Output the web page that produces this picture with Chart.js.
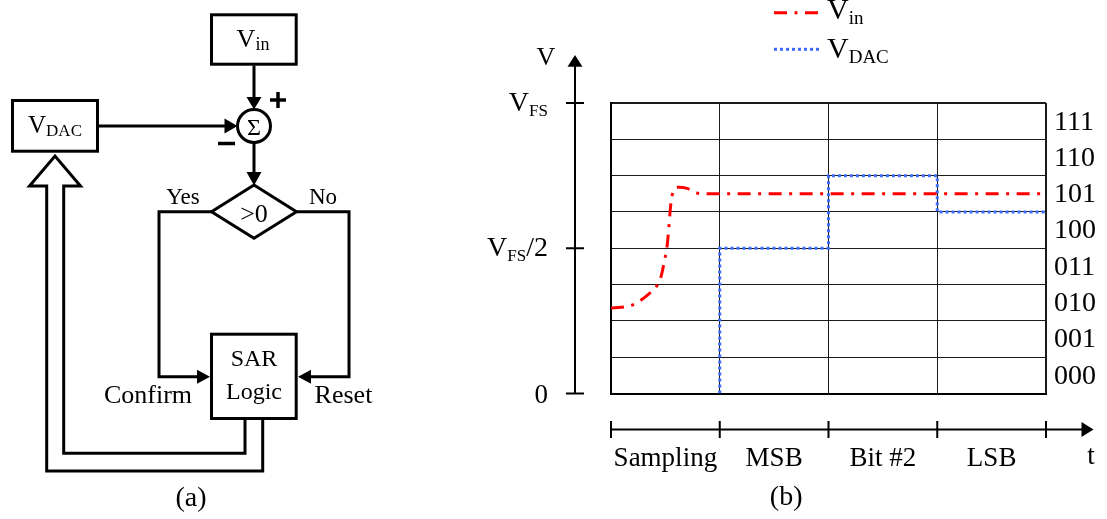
<!DOCTYPE html>
<html>
<head>
<meta charset="utf-8">
<script src="https://cdn.jsdelivr.net/npm/chart.js@4.4.1/dist/chart.umd.min.js"></script>
<style>
html,body{margin:0;padding:0;background:#fff;}
#wrap{position:relative;width:1107px;height:519px;overflow:hidden;background:#fff;}
#c{position:absolute;left:0;top:0;}
#diag{position:absolute;left:0;top:0;}
#diag text{font-family:"Liberation Serif","Times New Roman",serif;fill:#000;}
</style>
</head>
<body>
<div id="wrap">
<canvas id="c" width="1107" height="519"></canvas>
<svg id="diag" width="480" height="519" viewBox="0 0 480 519">
  <g fill="none" stroke="#000" stroke-width="3" stroke-linejoin="miter">
    <!-- Vin box -->
    <rect x="211.5" y="14.8" width="84.7" height="49.4"/>
    <!-- VDAC box -->
    <rect x="12.5" y="100.5" width="85" height="50.7"/>
    <!-- sum circle -->
    <circle cx="254" cy="126" r="16.5"/>
    <!-- comparator diamond -->
    <polygon points="254,185 296.5,211.7 254,238.3 211.5,211.7"/>
    <!-- SAR box -->
    <rect x="211.5" y="334.2" width="84.7" height="84.3"/>
    <!-- connections -->
    <line x1="254" y1="65.5" x2="254" y2="98"/>
    <line x1="98" y1="126" x2="226" y2="126"/>
    <line x1="254" y1="142.5" x2="254" y2="173"/>
    <polyline points="211.5,211.7 159,211.7 159,376.7 199,376.7"/>
    <polyline points="296.5,211.7 349,211.7 349,376.7 309,376.7"/>
    <!-- hollow feedback arrow -->
    <path d="M245,420 V453.3 H63.7 V186 H80.5 L55,156 L29.5,186 H46.7 V471 H262.7 V420"/>
    <!-- + and - signs -->
    <line x1="270" y1="100" x2="286" y2="100" stroke-width="3.5"/>
    <line x1="278" y1="92" x2="278" y2="108" stroke-width="3.5"/>
    <line x1="218" y1="143.5" x2="235" y2="143.5" stroke-width="3.5"/>
  </g>
  <g fill="#000" stroke="none">
    <polygon points="246.5,97 261.5,97 254,109.5"/>
    <polygon points="224.5,118.5 224.5,133.5 237.5,126"/>
    <polygon points="246.5,172 261.5,172 254,185.5"/>
    <polygon points="197,369.7 197,383.7 210,376.7"/>
    <polygon points="311,369.7 311,383.7 298,376.7"/>
  </g>
  <text x="253" y="46.5" text-anchor="middle" font-size="26">V<tspan font-size="18" dy="3">in</tspan></text>
  <text x="55" y="133.3" text-anchor="middle" font-size="25">V<tspan font-size="17" dy="3">DAC</tspan></text>
  <text x="254" y="134.5" text-anchor="middle" font-size="24">Σ</text>
  <text x="254" y="221.5" text-anchor="middle" font-size="26">&gt;0</text>
  <text x="183" y="204" text-anchor="middle" font-size="23">Yes</text>
  <text x="323" y="204" text-anchor="middle" font-size="23">No</text>
  <text x="254" y="366" text-anchor="middle" font-size="24">SAR</text>
  <text x="254" y="399" text-anchor="middle" font-size="24">Logic</text>
  <text x="148" y="403.3" text-anchor="middle" font-size="26">Confirm</text>
  <text x="343.5" y="403.3" text-anchor="middle" font-size="26">Reset</text>
  <text x="191" y="506" text-anchor="middle" font-size="28">(a)</text>
</svg>
</div>
<script>
// ---------------- data ----------------
const phaseLabels = ['Sampling', 'MSB', 'Bit #2', 'LSB'];
const codeLabels = ['000', '001', '010', '011', '100', '101', '110', '111'];
const vTickValues = [0, 4, 8];
const vTickMain = ['0', 'V', 'V'];
const vTickSub = ['', 'FS', 'FS'];
const vTickSuffix = ['', '/2', ''];
const seriesNames = ['V', 'V'];
const seriesSubs = ['in', 'DAC'];
// input voltage (time in phase units, voltage in LSB units)
const tIn = [0, 0.2, 0.36, 0.42, 0.46, 0.49, 0.515, 0.53, 0.545, 0.56, 0.62, 0.7, 0.79, 0.9, 4];
const vIn = [2.35, 2.44, 2.77, 2.96, 3.22, 3.63, 4.04, 4.5, 5.06, 5.44, 5.68, 5.65, 5.52, 5.5, 5.5];
// DAC output steps
const tDac = [1, 1, 2, 2, 3, 3, 4];
const vDac = [0, 4, 4, 6, 6, 5, 5];

const FONT = '"Liberation Serif", "Times New Roman", serif';
const f = s => s + 'px ' + FONT;

function drawParts(ctx, x, y, parts, align) {
  let total = 0;
  parts.forEach(p => { ctx.font = f(p.size); p.w = p.t ? ctx.measureText(p.t).width : 0; total += p.w; });
  let cx = align === 'right' ? x - total : (align === 'center' ? x - total / 2 : x);
  ctx.textAlign = 'left';
  ctx.textBaseline = 'alphabetic';
  parts.forEach(p => { if (p.t) { ctx.font = f(p.size); ctx.fillText(p.t, cx, y + (p.dy || 0)); } cx += p.w; });
}

const decor = {
  id: 'decor',
  afterDraw(chart) {
    const { ctx, chartArea: a, scales: { x, y } } = chart;
    ctx.save();
    ctx.fillStyle = '#000';
    ctx.strokeStyle = '#000';
    ctx.lineWidth = 2;
    ctx.setLineDash([]);

    // ----- vertical V axis -----
    const ax = a.left - 36;
    ctx.beginPath();
    ctx.moveTo(ax, y.getPixelForValue(0));
    ctx.lineTo(ax, a.top - 37);
    ctx.stroke();
    ctx.beginPath();
    ctx.moveTo(ax - 7.5, a.top - 36.3);
    ctx.lineTo(ax + 7.5, a.top - 36.3);
    ctx.lineTo(ax, a.top - 48);
    ctx.closePath();
    ctx.fill();
    ctx.font = f(26);
    ctx.textAlign = 'center';
    ctx.textBaseline = 'alphabetic';
    ctx.fillText('V', ax - 29, a.top - 38);
    vTickValues.forEach((v, i) => {
      const py = y.getPixelForValue(v);
      ctx.beginPath();
      ctx.moveTo(ax - 9, py);
      ctx.lineTo(ax + 9, py);
      ctx.stroke();
      if (vTickSub[i]) {
        drawParts(ctx, ax - 27, py + 8, [
          { t: vTickMain[i], size: 28 },
          { t: vTickSub[i], size: 17, dy: 5 },
          { t: vTickSuffix[i], size: 28 }
        ], 'right');
      } else {
        drawParts(ctx, ax - 27, py + 9, [{ t: vTickMain[i], size: 27 }], 'right');
      }
    });

    // ----- code labels at right -----
    ctx.font = f(28);
    ctx.textAlign = 'left';
    ctx.textBaseline = 'middle';
    codeLabels.forEach((lab, i) => {
      ctx.fillText(lab, a.right + 8, y.getPixelForValue(i + 0.5) + 1);
    });

    // ----- time axis -----
    const ty = a.bottom + 36;
    ctx.beginPath();
    ctx.moveTo(x.getPixelForValue(0), ty);
    ctx.lineTo(a.right + 38, ty);
    ctx.stroke();
    ctx.beginPath();
    ctx.moveTo(a.right + 35.5, ty - 7.5);
    ctx.lineTo(a.right + 35.5, ty + 7.5);
    ctx.lineTo(a.right + 47.5, ty);
    ctx.closePath();
    ctx.fill();
    for (let i = 0; i <= phaseLabels.length; i++) {
      const px = x.getPixelForValue(i);
      ctx.beginPath();
      ctx.moveTo(px, ty - 8.5);
      ctx.lineTo(px, ty + 8.5);
      ctx.stroke();
    }
    ctx.font = f(27);
    ctx.textAlign = 'center';
    ctx.textBaseline = 'alphabetic';
    phaseLabels.forEach((lab, i) => {
      ctx.fillText(lab, x.getPixelForValue(i + 0.5), ty + 36);
    });
    ctx.fillText('t', a.right + 45, ty + 34);
    ctx.font = f(28);
    ctx.fillText('(b)', (x.getPixelForValue(1) + x.getPixelForValue(2)) / 2 + 12, 505);

    // ----- legend -----
    const legY = [12.7, 49.3];
    const legBase = [18.5, 58];
    chart.data.datasets.forEach((ds, i) => {
      ctx.save();
      ctx.strokeStyle = ds.borderColor;
      ctx.lineWidth = ds.borderWidth;
      ctx.setLineDash(ds.borderDash);
      ctx.beginPath();
      ctx.moveTo(774, legY[i]);
      ctx.lineTo(819, legY[i]);
      ctx.stroke();
      ctx.restore();
      ctx.fillStyle = '#000';
      drawParts(ctx, 827, legBase[i], [
        { t: seriesNames[i], size: 30 },
        { t: seriesSubs[i], size: 19, dy: 5 }
      ], 'left');
    });
    ctx.restore();
  }
};

const edgeWidth = max => c => (c.tick && c.tick.value === max) ? 2 : 1;

new Chart(document.getElementById('c'), {
  type: 'line',
  data: {
    datasets: [
      {
        label: 'Vin',
        data: tIn.map((t, i) => ({ x: t, y: vIn[i] })),
        borderColor: '#ff0000',
        borderWidth: 3,
        borderDash: [13, 7.5, 3, 7.5],
        cubicInterpolationMode: 'monotone',
        pointRadius: 0,
        fill: false
      },
      {
        label: 'VDAC',
        data: tDac.map((t, i) => ({ x: t, y: vDac[i] })),
        borderColor: '#3b6cff',
        borderWidth: 3,
        borderDash: [3, 3],
        tension: 0,
        pointRadius: 0,
        fill: false
      }
    ]
  },
  options: {
    responsive: false,
    animation: false,
    devicePixelRatio: 1,
    layout: { padding: { left: 611, right: 61, top: 103, bottom: 125.5 } },
    plugins: { legend: { display: false }, tooltip: { enabled: false } },
    scales: {
      x: {
        type: 'linear', min: 0, max: 4,
        ticks: { display: false, stepSize: 1 },
        grid: { color: '#1a1a1a', drawTicks: false, lineWidth: edgeWidth(4) },
        border: { color: '#000', width: 2 }
      },
      y: {
        type: 'linear', min: 0, max: 8,
        ticks: { display: false, stepSize: 1 },
        grid: { color: '#1a1a1a', drawTicks: false, lineWidth: edgeWidth(8) },
        border: { color: '#000', width: 2 }
      }
    }
  },
  plugins: [decor]
});
</script>
</body>
</html>
